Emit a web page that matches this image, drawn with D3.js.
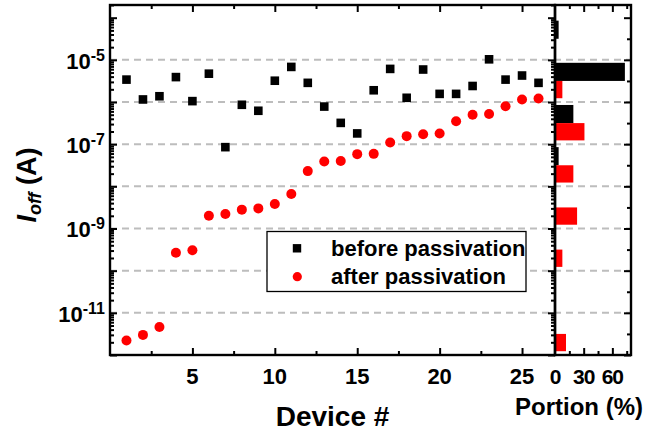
<!DOCTYPE html>
<html><head><meta charset="utf-8">
<script src="https://cdn.jsdelivr.net/npm/d3@7"></script>
<style>
html,body{margin:0;padding:0;background:#fff;}
svg{display:block;font-family:"Liberation Sans",Arial,sans-serif;font-weight:bold;}
</style></head>
<body><svg id="c" width="660" height="432"></svg>
<script>
// ---- data ----
const devices = [1,2,3,4,5,6,7,8,9,10,11,12,13,14,15,16,17,18,19,20,21,22,23,24,25,26];
const beforePassivation = [3.4e-6,1.15e-6,1.37e-6,3.9e-6,1.05e-6,4.7e-6,8.5e-8,8.6e-7,6.2e-7,3.2e-6,6.8e-6,2.85e-6,7.8e-7,3.2e-7,1.8e-7,1.9e-6,6.1e-6,1.26e-6,5.9e-6,1.56e-6,1.56e-6,2.4e-6,1.03e-5,3.4e-6,4.25e-6,2.85e-6];
const afterPassivation = [2.2e-12,3.0e-12,4.6e-12,2.65e-10,3.05e-10,2.0e-9,2.2e-9,2.8e-9,3.0e-9,3.8e-9,6.6e-9,2.3e-8,3.9e-8,4.0e-8,5.8e-8,5.9e-8,1.1e-7,1.55e-7,1.72e-7,1.8e-7,3.5e-7,5.0e-7,5.2e-7,7.9e-7,1.15e-6,1.21e-6];
// histogram: decade bins (lower exponent) and portion (%)
const binExponents = [-12,-11,-10,-9,-8,-7,-6,-5];
const portionBefore = [0,0,0,0,3.8,19.2,73.1,3.8];
const portionAfter  = [11.5,0,7.7,23.1,19.2,30.8,7.7,0];
const seriesNames = ["before passivation","after passivation"];
const xTickLabels = [5,10,15,20,25];
const yLabelExponents = [-11,-9,-7,-5];
const gridExponents = [-11,-10,-9,-8,-7,-6,-5];
const portionTickLabels = [0,30,60];

// ---- layout ----
const L=110, R=555, HR=631, T=5, B=355;
const svg = d3.select("#c");
const x = d3.scaleLinear().domain([0,27]).range([L,R]);
const y = d3.scaleLog().domain([1e-12,2e-4]).range([B,T]);
const hx = d3.scaleLinear().domain([0,79.5]).range([R,HR]);

// gridlines
svg.append("g").selectAll("line").data(gridExponents).join("line")
  .attr("x1",L).attr("x2",HR)
  .attr("y1",d=>y(Math.pow(10,d))).attr("y2",d=>y(Math.pow(10,d)))
  .attr("stroke","#bdbdbd").attr("stroke-width",2).attr("stroke-dasharray","7,5");

// histogram bars
const hg = svg.append("g");
hg.selectAll("rect.b").data(binExponents.map((e,i)=>({e,v:portionBefore[i]})).filter(d=>d.v>0)).join("rect")
  .attr("x",hx(0)).attr("width",d=>hx(d.v)-hx(0))
  .attr("y",d=>y(Math.pow(10,d.e+0.93)))
  .attr("height",d=>y(Math.pow(10,d.e+0.5))-y(Math.pow(10,d.e+0.93)))
  .attr("fill","#000");
hg.selectAll("rect.a").data(binExponents.map((e,i)=>({e,v:portionAfter[i]})).filter(d=>d.v>0)).join("rect")
  .attr("x",hx(0)).attr("width",d=>hx(d.v)-hx(0))
  .attr("y",d=>y(Math.pow(10,d.e+0.5)))
  .attr("height",d=>y(Math.pow(10,d.e+0.09))-y(Math.pow(10,d.e+0.5)))
  .attr("fill","#ff0000");

// markers
const s = 8.6;
svg.append("g").selectAll("rect").data(devices.map((d,i)=>({d,v:beforePassivation[i]}))).join("rect")
  .attr("x",d=>x(d.d)-s/2).attr("y",d=>y(d.v)-s/2).attr("width",s).attr("height",s).attr("fill","#000");
svg.append("g").selectAll("circle").data(devices.map((d,i)=>({d,v:afterPassivation[i]}))).join("circle")
  .attr("cx",d=>x(d.d)).attr("cy",d=>y(d.v)).attr("r",5).attr("fill","#ff0000");

// legend
const lg = svg.append("g");
lg.append("rect").attr("x",267).attr("y",231.5).attr("width",259).attr("height",60)
  .attr("fill","#fff").attr("stroke","#000").attr("stroke-width",1.3);
lg.append("rect").attr("x",297-4.2).attr("y",248.3-4.2).attr("width",8.4).attr("height",8.4).attr("fill","#000");
lg.append("circle").attr("cx",297.3).attr("cy",276.7).attr("r",4.6).attr("fill","#ff0000");
lg.selectAll("text").data(seriesNames).join("text")
  .attr("x",331).attr("y",(d,i)=>255.5+i*28).attr("font-size",22).text(d=>d);

// frames
svg.append("rect").attr("x",L).attr("y",T).attr("width",R-L).attr("height",B-T)
  .attr("fill","none").attr("stroke","#000").attr("stroke-width",2.4);
svg.append("rect").attr("x",R).attr("y",T).attr("width",HR-R).attr("height",B-T)
  .attr("fill","none").attr("stroke","#000").attr("stroke-width",2.4);

// tick helper
function ticks(axis, pos, vals, size){
  const g = svg.append("g").attr("transform",pos).call(axis.tickValues(vals).tickSize(size).tickFormat(""));
  g.select(".domain").remove();
  g.selectAll("line").attr("stroke","#000").attr("stroke-width",2);
  g.selectAll("text").remove();
  return g;
}
const xMajor = xTickLabels, xMinor = [2.5,7.5,12.5,17.5,22.5];
ticks(d3.axisBottom(x), `translate(0,${B})`, xMajor, -7);
ticks(d3.axisBottom(x), `translate(0,${B})`, xMinor, -4);
ticks(d3.axisTop(x), `translate(0,${T})`, xMajor, -7);
ticks(d3.axisTop(x), `translate(0,${T})`, xMinor, -4);

const decades = d3.range(-12,-3);
const logMajor = decades.map(e=>Math.pow(10,e));
const logMinor = [];
decades.forEach(e=>{ for(let m=2;m<=9;m++){ const v=m*Math.pow(10,e); if(v<=2e-4) logMinor.push(v);} });
ticks(d3.axisLeft(y), `translate(${L},0)`, logMajor, -7);
ticks(d3.axisLeft(y), `translate(${L},0)`, logMinor, -4);
ticks(d3.axisRight(y), `translate(${R},0)`, logMajor, -7);
ticks(d3.axisRight(y), `translate(${R},0)`, logMinor, -4);
// histogram axes
ticks(d3.axisRight(y), `translate(${HR},0)`, logMajor, -7);
ticks(d3.axisRight(y), `translate(${HR},0)`, decades.map(e=>Math.pow(10,e+0.5)).filter(v=>v<2e-4), -4);
ticks(d3.axisBottom(hx), `translate(0,${B})`, [30,60], -7);
ticks(d3.axisBottom(hx), `translate(0,${B})`, [15,45,75], -4);
ticks(d3.axisTop(hx), `translate(0,${T})`, [30,60], -7);
ticks(d3.axisTop(hx), `translate(0,${T})`, [15,45,75], -4);

// x tick labels
svg.append("g").selectAll("text").data(xTickLabels).join("text")
  .attr("x",d=>x(d)).attr("y",383.5).attr("text-anchor","middle").attr("font-size",22).text(d=>d);
svg.append("g").selectAll("text").data(portionTickLabels).join("text")
  .attr("x",d=>hx(d)).attr("y",383.5).attr("text-anchor","middle").attr("font-size",21)
  .attr("letter-spacing",-1).text(d=>d);

// y tick labels
const yl = svg.append("g").selectAll("text").data(yLabelExponents).join("text")
  .attr("x",105).attr("y",d=>y(Math.pow(10,d))+8.8).attr("text-anchor","end").attr("font-size",22);
yl.append("tspan").text("10");
yl.append("tspan").attr("font-size",16).attr("dy",-8).text(d=>"-"+Math.abs(d));

// axis titles
svg.append("text").attr("x",(L+R)/2).attr("y",426).attr("text-anchor","middle").attr("font-size",28).text("Device #");
svg.append("text").attr("x",579).attr("y",415).attr("text-anchor","middle").attr("font-size",24).text("Portion (%)");
const yt = svg.append("text").attr("transform","translate(36,185) rotate(-90)").attr("text-anchor","middle").attr("font-size",27);
yt.append("tspan").attr("font-style","italic").text("I");
yt.append("tspan").attr("font-style","italic").attr("font-size",18).attr("dy",5).text("off");
yt.append("tspan").attr("dy",-5).text(" (A)");
</script></body></html>
